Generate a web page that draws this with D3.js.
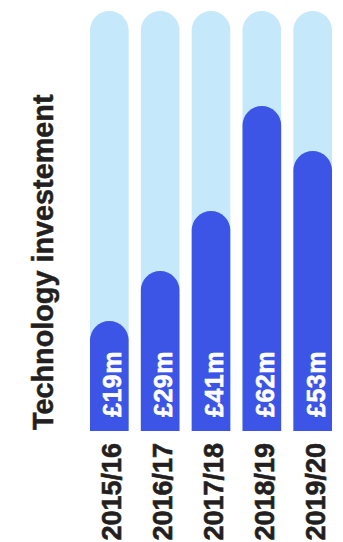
<!DOCTYPE html>
<html>
<head>
<meta charset="utf-8">
<script src="https://cdn.jsdelivr.net/npm/d3@7"></script>
<style>
  html, body { margin: 0; padding: 0; background: #fff; }
  svg { display: block; }
</style>
</head>
<body>
<div id="chart"></div>
<script>
// data
const years = ["2015/16", "2016/17", "2017/18", "2018/19", "2019/20"];
const spend = [19, 29, 41, 62, 53];
const valueLabels = ["£19m", "£29m", "£41m", "£62m", "£53m"];
const scaleMax = 81;

const width = 343, height = 542;
const barBottom = 431, barTop = 11;
const font = "'Liberation Sans', Arial, sans-serif";

const svg = d3.select("#chart")
  .append("svg")
  .attr("width", width)
  .attr("height", height);

const x = d3.scaleBand()
  .domain(years)
  .range([90, 332])
  .paddingInner(0.24)
  .paddingOuter(0);

const bw = x.bandwidth();
const r = bw / 2;

// dark bar top = y(v); the cap radius sits below zero so small bars stay rounded
const y = d3.scaleLinear()
  .domain([0, scaleMax])
  .range([barBottom - 15, barTop]);

function pill(x0, top) {
  return "M" + x0 + "," + barBottom +
    "V" + (top + r) +
    "A" + r + "," + r + " 0 0 1 " + (x0 + bw) + "," + (top + r) +
    "V" + barBottom + "Z";
}

// background tracks
svg.append("g")
  .selectAll("path")
  .data(years)
  .enter()
  .append("path")
  .attr("d", d => pill(x(d), y(scaleMax)))
  .style("fill", "#c5e8fa");

// value bars
svg.append("g")
  .selectAll("path")
  .data(years)
  .enter()
  .append("path")
  .attr("d", (d, i) => pill(x(d), y(spend[i])))
  .style("fill", "#3c55e6");

// value labels inside the bars
svg.append("g")
  .selectAll("text")
  .data(years)
  .enter()
  .append("text")
  .attr("transform", d => "translate(" + (x(d) + r + 12) + "," + (barBottom - 14) + ") rotate(-90)")
  .attr("text-anchor", "start")
  .style("font-family", font)
  .style("font-weight", "bold")
  .style("font-size", "25px")
  .style("letter-spacing", "0.5px")
  .style("fill", "#fff")
  .style("stroke", "#fff")
  .style("stroke-width", "0.6px")
  .text((d, i) => valueLabels[i]);

// year labels under the bars
svg.append("g")
  .selectAll("text")
  .data(years)
  .enter()
  .append("text")
  .attr("transform", d => "translate(" + (x(d) + r + 12) + "," + 443 + ") rotate(-90)")
  .attr("text-anchor", "end")
  .style("font-family", font)
  .style("font-weight", "bold")
  .style("font-size", "27px")
  .style("fill", "#231f20")
  .style("stroke", "#231f20")
  .style("stroke-width", "0.6px")
  .text(d => d);

// axis title
svg.append("text")
  .attr("transform", "translate(53,430) rotate(-90)")
  .attr("text-anchor", "start")
  .style("font-family", font)
  .style("font-weight", "bold")
  .style("font-size", "28.8px")
  .style("fill", "#231f20")
  .style("stroke", "#231f20")
  .style("stroke-width", "0.5px")
  .text("Technology investement");
</script>
</body>
</html>
